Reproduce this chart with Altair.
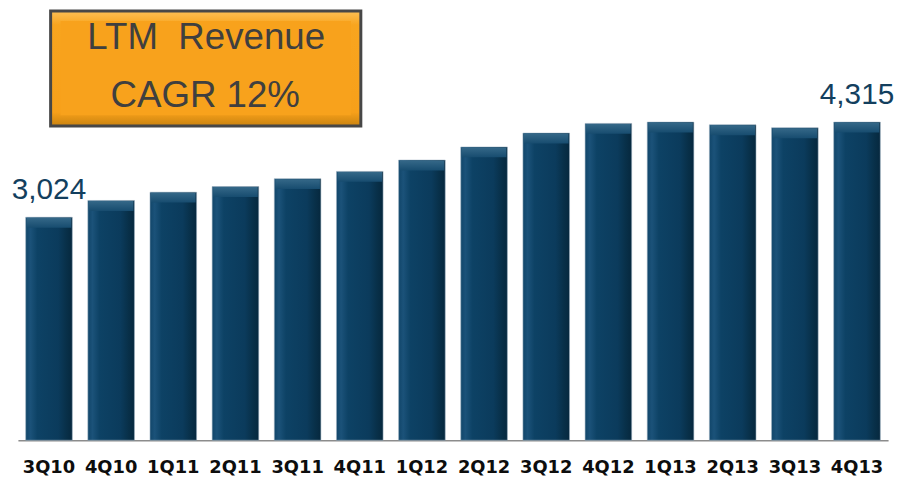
import altair as alt
import pandas as pd

quarters = ["3Q10", "4Q10", "1Q11", "2Q11", "3Q11", "4Q11", "1Q12",
            "2Q12", "3Q12", "4Q12", "1Q13", "2Q13", "3Q13", "4Q13"]
revenue = [3024, 3252, 3364, 3441, 3548, 3646, 3800,
           3978, 4166, 4297, 4315, 4278, 4238, 4315]
value_labels = ["3,024", "", "", "", "", "", "",
                "", "", "", "", "", "", "4,315"]
box_lines = ["LTM\u00a0 Revenue", "CAGR 12%"]

df = pd.DataFrame({"quarter": quarters, "revenue": revenue, "label": value_labels})
box_df = pd.DataFrame({"line": box_lines, "row": [0, 1]})

x_enc = alt.X("quarter:N", sort=quarters,
              scale=alt.Scale(paddingInner=0.25, paddingOuter=0.125),
              axis=alt.Axis(title=None, labelAngle=0, ticks=False, tickSize=0,
                            labelPadding=33, labelBaseline="alphabetic",
                            labelFont="DejaVu Sans", labelFontWeight="bold",
                            labelFontSize=18, labelColor="#0d0d0d",
                            domainColor="#8c8c8c", domainWidth=1.5, grid=False))
y_enc = alt.Y("revenue:Q", scale=alt.Scale(domain=[0, 5834], nice=False),
              axis=None)

bar_grad = alt.Gradient(
    gradient="linear", x1=0, x2=1, y1=0, y2=0,
    stops=[alt.GradientStop(offset=0, color="#11466a"),
           alt.GradientStop(offset=0.1, color="#1b5279"),
           alt.GradientStop(offset=0.25, color="#0d4265"),
           alt.GradientStop(offset=0.7, color="#0b3b5c"),
           alt.GradientStop(offset=0.87, color="#083049"),
           alt.GradientStop(offset=1, color="#06283e")])

bars = alt.Chart(df).mark_bar(color=bar_grad, stroke="#9db2c2",
                              strokeWidth=0.7, strokeOpacity=0.8).encode(
    x=x_enc, y=y_enc)

bevel_grad = alt.Gradient(
    gradient="linear", x1=0, x2=0, y1=0, y2=1,
    stops=[alt.GradientStop(offset=0, color="#356888"),
           alt.GradientStop(offset=1, color="#174c6f")])

bevel = alt.Chart(df).mark_tick(color=bevel_grad, size=45, thickness=10,
                                yOffset=5.5, opacity=1).encode(
    x=x_enc, y=y_enc)

labels = alt.Chart(df).transform_filter(alt.datum.label != "").mark_text(
    dy=-18, fontSize=30, font="Liberation Sans", color="#133f5e",
    baseline="alphabetic").encode(
    x=x_enc, y=y_enc, text="label:N")

box_grad = alt.Gradient(
    gradient="linear", x1=0, x2=0, y1=0, y2=1,
    stops=[alt.GradientStop(offset=0, color="#fcbf55"),
           alt.GradientStop(offset=0.12, color="#f8a51f"),
           alt.GradientStop(offset=0.88, color="#f7a01a"),
           alt.GradientStop(offset=1, color="#c98310")])

box_outer = alt.Chart(box_df).transform_filter(alt.datum.row == 0).mark_rect(
    color=box_grad, stroke="#474747", strokeWidth=3).encode(
    x=alt.value(33), x2=alt.value(346), y=alt.value(1), y2=alt.value(117))

box_inner = alt.Chart(box_df).transform_filter(alt.datum.row == 0).mark_rect(
    color="#f8a21c").encode(
    x=alt.value(43), x2=alt.value(336), y=alt.value(11), y2=alt.value(106))

box_text1 = alt.Chart(box_df).transform_filter(alt.datum.row == 0).mark_text(
    fontSize=37, font="Liberation Sans", color="#3f3f3f",
    baseline="alphabetic", align="center").encode(
    x=alt.value(190), y=alt.value(39), text="line:N")

box_text2 = alt.Chart(box_df).transform_filter(alt.datum.row == 1).mark_text(
    fontSize=37, font="Liberation Sans", color="#3f3f3f",
    baseline="alphabetic", align="center").encode(
    x=alt.value(189), y=alt.value(98), text="line:N")

chart = alt.layer(bars, bevel, labels, box_outer, box_inner,
                  box_text1, box_text2).properties(
    width=878, height=434,
    autosize=alt.AutoSizeParams(type="none"),
    padding={"left": 10, "top": 0, "right": 10, "bottom": 38},
    background="white",
).configure_view(stroke=None)

chart.save("out.html", embed_options={"renderer": "svg", "actions": False})
